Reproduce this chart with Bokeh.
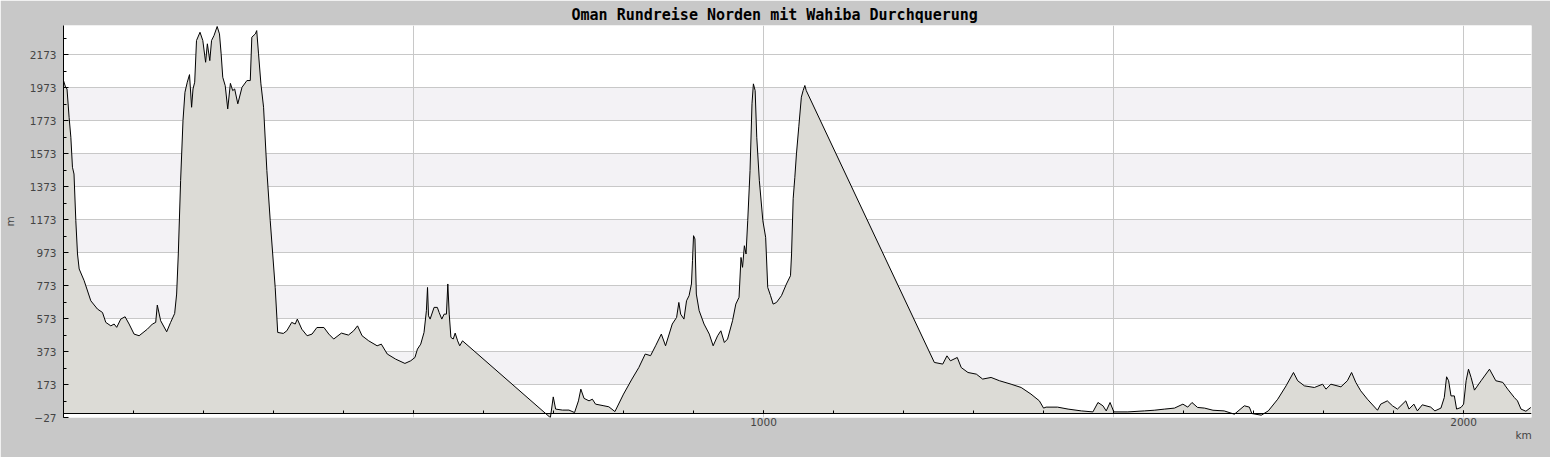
from bokeh.plotting import figure
from bokeh.models import FixedTicker, BoxAnnotation, Range1d, LinearAxis, Title
from bokeh.embed import file_html
from bokeh.resources import INLINE

TITLE = "Oman Rundreise Norden mit Wahiba Durchquerung"

km = [0, 3, 5, 8, 10.5, 12.8, 15, 17.6, 20, 22.4, 29.5, 39, 48.5, 55.7, 60.4, 67.6, 72.3, 76, 81.8, 88,
      93.7, 100.8, 108, 119.8, 127, 131.7, 134, 138.8, 147.4, 153, 158.8, 161.6, 164, 167.3, 170.7, 173.5,
      176.8, 180, 183, 185, 187.4, 190, 195, 199, 203, 205.5, 209, 211.5, 215, 219.5, 222.8, 225.2, 227.5,
      231, 234.6, 238.4, 241.7, 244.5, 249, 255, 262, 266.8, 269, 274, 276, 278.6, 282, 285.8, 290.5, 295.3,
      302.4, 306, 314, 319, 326, 331, 334, 340.4, 348, 355, 362, 372, 379, 386, 397, 407, 414.5, 420, 426.5,
      436, 448, 454, 462.5, 474.5, 487.7, 496, 502, 505.6, 510.3, 515, 518.4, 520, 521.4, 523.7, 529.4, 534,
      536.6, 540.4, 543.7, 547, 549, 551, 553.4, 556.7, 559.5, 563, 566, 570,
      695.5, 699.6, 703, 712.7, 722, 730, 735.6, 739, 743.6, 750.7, 755.5, 760, 772, 779, 787.7, 800, 812,
      821.8, 831, 838.6, 845.8, 854, 860, 869.6, 875.8, 879, 881.6, 886.3, 890, 893.6, 897, 898.5, 900, 902,
      904, 908, 915, 922.5, 928, 934.4, 939, 944, 948.6, 955.7, 960.4, 965, 967.8, 970, 972.6, 975, 977.4,
      980.7, 983.5, 985.5, 988, 990.3, 994, 999, 1003, 1006, 1010, 1013.7, 1018.5, 1025.6, 1032.7, 1038.5,
      1040, 1042.3, 1044.7, 1047, 1050.4, 1054, 1056.5, 1059, 1061,
      1244, 1256, 1262, 1267, 1276.7, 1282.4, 1292, 1304, 1313, 1325, 1337, 1353.6, 1368, 1382, 1394, 1400,
      1403.6, 1420, 1435, 1454, 1470.5, 1477.7, 1484.8, 1489.5, 1495, 1500.4, 1520.4, 1544, 1558, 1573, 1587,
      1599, 1606, 1612, 1620, 1630, 1642, 1658, 1672.6, 1686.8, 1694, 1697.5, 1711, 1721, 1734.5, 1746.4,
      1757, 1763, 1772.6, 1786.8, 1798.6, 1803.4, 1810.5, 1824.8, 1834, 1840, 1846, 1853, 1862.6, 1877,
      1881.6, 1891, 1898.4, 1905.5, 1917.4, 1922, 1929, 1934, 1941, 1953, 1959, 1967.6, 1972.4, 1975.7,
      1978.6, 1982, 1986.8, 1990, 1996.3, 2000, 2003.6, 2007, 2010.7, 2015.5, 2025, 2037, 2046, 2056, 2063,
      2072.5, 2077, 2082, 2089, 2096]

elev = [2017, 1976, 1966, 1794, 1673, 1491, 1450, 1167, 965, 874, 803, 681, 631, 610, 550, 529, 540, 520, 570, 584,
        540, 479, 469, 509, 540, 550, 655, 560, 493, 550, 604, 722, 965, 1410, 1774, 1946,
        2007, 2053, 1855, 1966, 2007, 2260, 2310, 2260, 2128, 2240, 2138, 2260, 2290, 2345, 2300, 2179, 2037,
        1986, 1845, 2000, 1956, 1966, 1876, 1976, 2017, 2017, 2280, 2300, 2320, 2179, 1997, 1855, 1471, 1167,
        762, 489, 483, 499, 550, 540, 570, 509, 469, 479, 519, 519, 479, 449, 485, 473, 499, 529, 469,
        438, 408, 418, 358, 327, 301, 317, 337, 388, 418, 489, 621, 762, 590, 570, 641, 641,
        610, 570, 600, 600, 783, 600, 459, 449, 485, 438, 408, 438,
        -28, 98, 24, 18, 18, 3, 74, 145, 89, 74, 84, 54, 44, 38, 9, 115, 206,
        276, 358, 348, 408, 479, 408, 540, 580, 671, 600, 570, 681, 712, 783, 924, 1076, 1056,
        722, 621, 540, 479, 408, 469, 499, 428, 449, 560, 661, 702, 944, 884, 1015, 965, 1167,
        1471, 1876, 1997, 1956, 1673, 1410, 1167, 1066, 762, 712, 661, 671, 712, 783, 833,
        965, 1300, 1430, 1572, 1740, 1916, 1956, 1987, 1956,
        307, 297, 347, 317, 337, 276, 246, 236, 206, 216, 196, 175, 155, 115, 74, 30,
        36, 36, 24, 13, 7, 64, 44, 13, 64, 7, 7, 13, 17, 24, 30,
        54, 36, 64, 34, 30, 17, 13, -7, 44, 36, -3, -13, 13, 84, 165,
        246, 196, 165, 155, 175, 145, 175, 159, 196, 246, 186, 135, 84, 17,
        54, 74, 44, 24, 74, 24, 54, 13, 50, 36, 13, 30, 94, 220,
        196, 104, 104, 24, 34, 54, 196, 266, 216, 139, 196, 266, 196, 186, 145,
        94, 74, 24, 11, 34]

y_ticks = [-27, 173, 373, 573, 773, 973, 1173, 1373, 1573, 1773, 1973, 2173]
y_minor = [-27, 73, 173, 273, 373, 473, 573, 673, 773, 873, 973, 1073, 1173, 1273, 1373, 1473,
           1573, 1673, 1773, 1873, 1973, 2073, 2173, 2273]
x_major = [0, 500, 1000, 1500, 2000]
x_minor = [100, 200, 300, 400, 500, 600, 700, 800, 900, 1000, 1100, 1200, 1300, 1400, 1500,
           1600, 1700, 1800, 1900, 2000]
x_grid = [500, 1000, 1500, 2000]
x_label_ticks = [1000, 2000]

X_MAX = 2097
Y_MIN, Y_MAX = -27, 2351
TEXT = "#444444"

p = figure(width=1550, height=457, output_backend="svg", toolbar_location=None, title=TITLE,
           x_range=Range1d(0, X_MAX), y_range=Range1d(Y_MIN, Y_MAX),
           min_border_left=61, min_border_right=19, min_border_top=25, min_border_bottom=40,
           background_fill_color="white", border_fill_color="#c8c8c8", outline_line_color=None)

p.title.align = "left"
p.title.offset = 508
p.title.standoff = 4
p.title.text_font = "DejaVu Sans Mono"
p.title.text_font_style = "bold"
p.title.text_font_size = "15px"
p.title.text_color = "black"

# alternating bands
for i in range(1, len(y_ticks) - 1, 2):
    p.add_layout(BoxAnnotation(bottom=y_ticks[i], top=y_ticks[i + 1], fill_color="#f3f2f5",
                               fill_alpha=1, line_color=None, level="image"))

p.varea(x=km, y1=0, y2=elev, fill_color="#dcdbd6")
p.line(km, elev, line_color="black", line_width=1)

ya = p.yaxis[0]
ya.ticker = FixedTicker(ticks=y_ticks, minor_ticks=y_minor)
ya.major_tick_in = 5
ya.major_tick_out = 0
ya.minor_tick_in = 3
ya.minor_tick_out = 0
ya.axis_line_color = "black"
ya.major_tick_line_color = "black"
ya.minor_tick_line_color = "black"
ya.major_label_standoff = 7
ya.major_label_text_font = "DejaVu Sans"
ya.major_label_text_font_size = "10.5px"
ya.major_label_text_color = TEXT
ya.axis_label = "m"
ya.axis_label_standoff = 11
ya.axis_label_text_font = "DejaVu Sans"
ya.axis_label_text_font_size = "10.5px"
ya.axis_label_text_font_style = "normal"
ya.axis_label_text_color = TEXT

# axis line and ticks at elevation 0
xa = p.xaxis[0]
xa.ticker = FixedTicker(ticks=x_major, minor_ticks=x_minor)
xa.fixed_location = 0
xa.major_label_overrides = {t: "" for t in x_major}
xa.major_label_text_font_size = "0px"
xa.major_label_standoff = 0
xa.major_tick_in = 3
xa.major_tick_out = 0
xa.minor_tick_in = 3
xa.minor_tick_out = 0
xa.axis_line_color = "black"
xa.major_tick_line_color = "black"
xa.minor_tick_line_color = "black"

# labels below the frame
xb = LinearAxis(ticker=FixedTicker(ticks=x_label_ticks, minor_ticks=[]))
xb.axis_line_color = None
xb.major_tick_line_color = None
xb.minor_tick_line_color = None
xb.major_tick_in = 0
xb.major_tick_out = 0
xb.major_label_standoff = 0
xb.major_label_text_font = "DejaVu Sans"
xb.major_label_text_font_size = "10.5px"
xb.major_label_text_color = TEXT
p.add_layout(xb, "below")

p.add_layout(Title(text="km", align="left", offset=1452, standoff=-3,
                   text_font="DejaVu Sans", text_font_size="10.5px",
                   text_font_style="normal", text_color=TEXT), "below")

p.xgrid.ticker = FixedTicker(ticks=x_grid)
p.ygrid.ticker = FixedTicker(ticks=y_ticks)
for g in (p.xgrid[0], p.ygrid[0]):
    g.grid_line_color = "#c8c8c8"
    g.grid_line_width = 1
    g.level = "underlay"

open("out.html", "w").write(file_html(p, INLINE))
